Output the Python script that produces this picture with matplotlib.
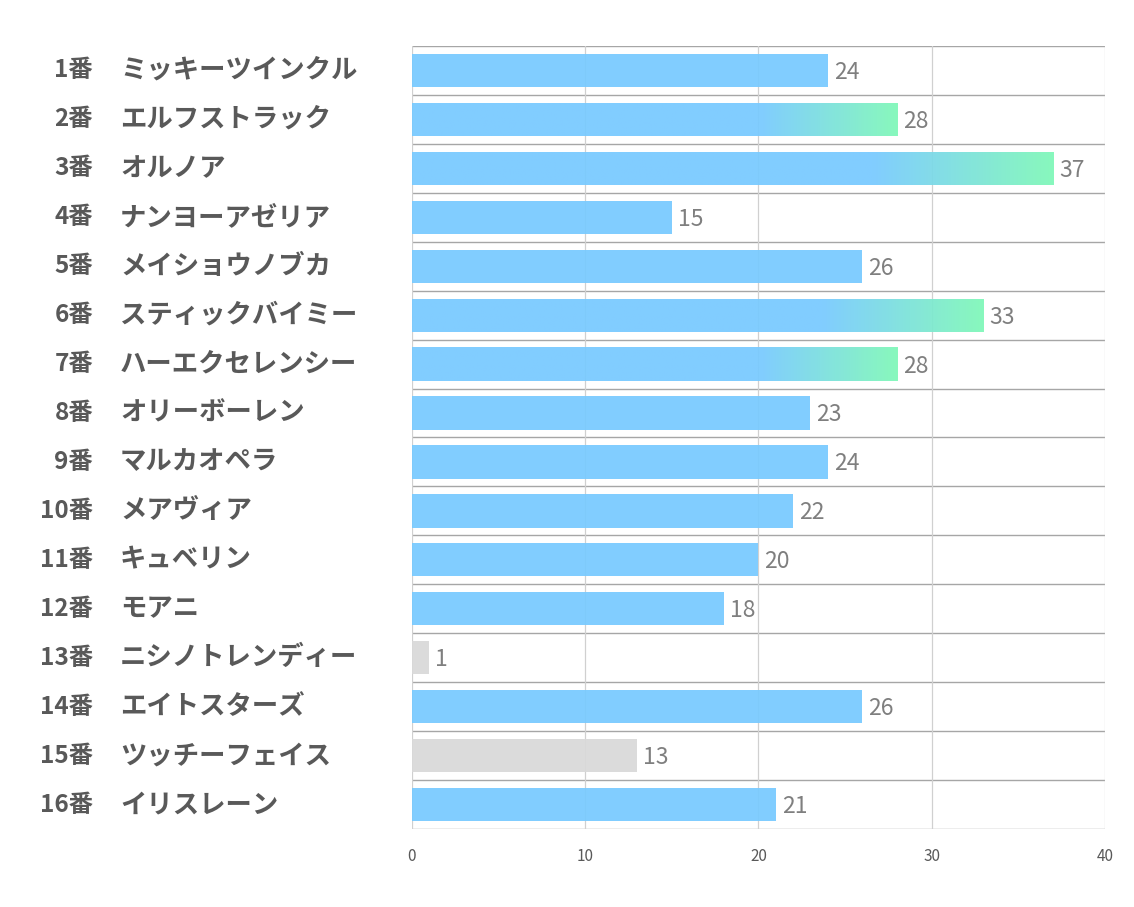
import matplotlib
matplotlib.use('Agg')
import matplotlib.pyplot as plt
import numpy as np
from matplotlib.colors import LinearSegmentedColormap

plt.rcParams['font.family'] = ['Noto Sans CJK JP', 'DejaVu Sans']

# data
numbers = ['1番', '2番', '3番', '4番', '5番', '6番', '7番', '8番',
           '9番', '10番', '11番', '12番', '13番', '14番', '15番', '16番']
names = ['ミッキーツインクル', 'エルフストラック', 'オルノア', 'ナンヨーアゼリア',
         'メイショウノブカ', 'スティックバイミー', 'ハーエクセレンシー', 'オリーボーレン',
         'マルカオペラ', 'メアヴィア', 'キュベリン', 'モアニ',
         'ニシノトレンディー', 'エイトスターズ', 'ツッチーフェイス', 'イリスレーン']
values = [24, 28, 37, 15, 26, 33, 28, 23, 24, 22, 20, 18, 1, 26, 13, 21]
gradient_rows = [1, 2, 5, 6]
grey_rows = [12, 14]
xticks = [0, 10, 20, 30, 40]

blue = '#78CAFF'
green = '#7FF8B8'
grey = '#D9D9D9'


def main():
    fig = plt.figure(figsize=(11.34, 9.07), dpi=100)
    ax = fig.add_axes([0.3633, 0.0860, 0.6111, 0.8633])

    n = len(values)
    ypos = np.arange(n)
    cmap = LinearSegmentedColormap.from_list(
        'bg', [(0, blue), (0.72, blue), (1.0, green)])

    for i, v in enumerate(values):
        color = grey if i in grey_rows else blue
        bars = ax.barh(ypos[i], v, height=0.68, color=color, alpha=0.93,
                       zorder=2, linewidth=0)
        if i in gradient_rows:
            rect = bars[0]
            rect.set_alpha(0)
            grad = np.linspace(0, 1, 256).reshape(1, -1)
            im = ax.imshow(grad, cmap=cmap, aspect='auto', alpha=0.93,
                           extent=(0, v, ypos[i] + 0.34, ypos[i] - 0.34),
                           zorder=2)
            im.set_clip_path(rect)
        ax.text(v + 0.35, ypos[i] + 0.04, str(v), va='center', ha='left',
                fontsize=16.5, color='#7F7F7F', zorder=3)

    # row separators
    for b in np.arange(-0.5, n + 0.5, 1):
        ax.axhline(b, color='#A6A6A6', linewidth=1.0, zorder=1)
    for x in xticks:
        ax.axvline(x, color='#D0D0D0', linewidth=0.9, zorder=1)

    ax.set_xlim(0, 40)
    ax.set_ylim(n - 0.5, -0.5)
    ax.set_xticks(xticks)
    ax.set_xticklabels([str(t) for t in xticks], fontsize=11, color='#595959')
    ax.tick_params(axis='x', length=0, pad=14)
    ax.set_yticks([])
    for s in ax.spines.values():
        s.set_visible(False)

    # row labels
    for i in range(n):
        ax.annotate(numbers[i], xy=(0, ypos[i]), xycoords=('figure pixels', 'data'),
                    xytext=(93, 0), textcoords=('figure pixels', 'offset points'),
                    ha='right', va='center', fontsize=17.5, fontweight='bold',
                    color='#595959', annotation_clip=False)
        ax.annotate(names[i], xy=(0, ypos[i]), xycoords=('figure pixels', 'data'),
                    xytext=(120, 0), textcoords=('figure pixels', 'offset points'),
                    ha='left', va='center', fontsize=19, fontweight='bold',
                    color='#595959', annotation_clip=False)

    fig.savefig('out.png', dpi=100, facecolor='white')


if __name__ == "__main__":
    main()
